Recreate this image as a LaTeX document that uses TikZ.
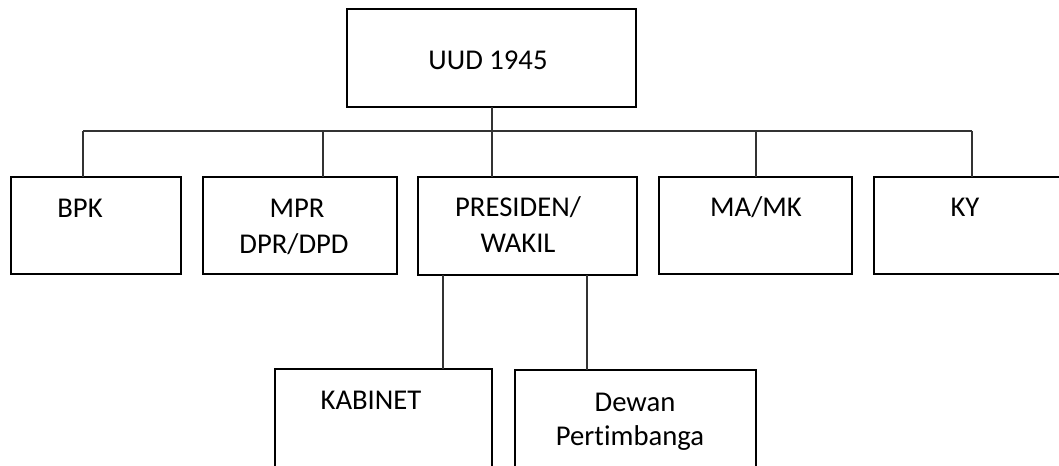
\documentclass[tikz,border=0pt]{standalone}
\usepackage{fontspec}
\setmainfont[Ligatures={NoCommon}]{Carlito}
\begin{document}
\begin{tikzpicture}[x=0.75pt,y=-0.75pt,
  box/.style={draw=black,line width=2.2pt,rectangle,inner sep=0pt,outer sep=0pt},
  conn/.style={draw=black!80,line width=1.5pt},
  lbl/.style={anchor=base,inner sep=0pt,font=\fontsize{21.5pt}{26pt}\selectfont}]
\useasboundingbox (0,0) rectangle (1059,466);
\clip (0,0) rectangle (1059,466);
\fill[white] (0,0) rectangle (1059,466);
% boxes
\node[box,minimum width=216.75pt,minimum height=73.5pt] (uud) at (491.5,58) {};
\node[box,minimum width=127.5pt,minimum height=72.75pt] (bpk) at (96,225.5) {};
\node[box,minimum width=145.5pt,minimum height=72.75pt] (mpr) at (300,225.5) {};
\node[box,minimum width=164.25pt,minimum height=73.5pt] (pres) at (527.5,226) {};
\node[box,minimum width=144.75pt,minimum height=72.75pt] (mamk) at (755.5,225.5) {};
\node[box,minimum width=147pt,minimum height=72.75pt] (ky) at (972,225.5) {};
\node[box,minimum width=162.75pt,minimum height=98.25pt] (kab) at (383.5,434.5) {};
\node[box,minimum width=180.75pt,minimum height=97.5pt] (dew) at (635.5,435) {};
% texts
\node[lbl] (tuud) at (488,70) {UUD 1945};
\node[lbl] (tbpk) at (80,218) {BPK};
\node[lbl] (tmpr) at (297,218) {MPR};
\node[lbl] (tdpr) at (294,254) {DPR/DPD};
\node[lbl] (tpres) at (518,217) {PRESIDEN/};
\node[lbl] (twak) at (518,253) {WAKIL};
\node[lbl] (tma) at (756,217) {MA/MK};
\node[lbl] (tky) at (965,217) {KY};
\node[lbl] (tkab) at (371,409) {KABINET};
\node[lbl] (tdew) at (635,411) {Dewan};
\begin{scope}
\clip (520,420) rectangle (750,450);
\node[lbl] (tper) at (630,445) {Pertimbanga};
\end{scope}
% connectors
\coordinate (busL) at (83,131);
\coordinate (busR) at (972,131);
\coordinate (busM) at (323,131);
\coordinate (busC) at (uud.south |- busL);
\coordinate (busA) at (756,131);
\coordinate (pk) at (443,275);
\coordinate (pd) at (587,275);
\draw[conn] (uud.south) -- (busC);
\draw[conn] (busL) -- (busR);
\draw[conn] (busL) -- (busL |- bpk.north);
\draw[conn] (busM) -- (busM |- mpr.north);
\draw[conn] (busC) -- (busC |- pres.north);
\draw[conn] (busA) -- (busA |- mamk.north);
\draw[conn] (busR) -- (ky.north);
\draw[conn] (pk |- pres.south) -- (pk |- kab.north);
\draw[conn] (pd |- pres.south) -- (pd |- dew.north);
\end{tikzpicture}
\end{document}
